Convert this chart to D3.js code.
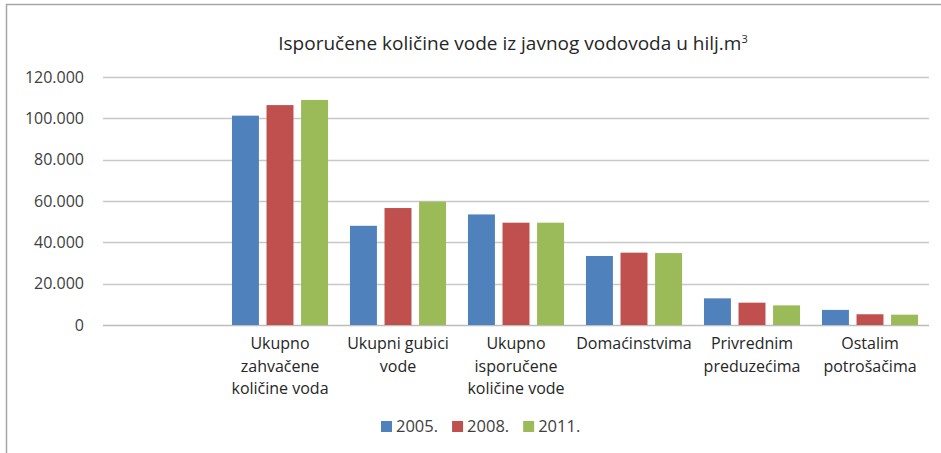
<!DOCTYPE html>
<html>
<head>
<meta charset="utf-8">
<script src="https://cdn.jsdelivr.net/npm/d3@7"></script>
<style>
  body { margin: 0; background: #fff; }
  svg { display: block; font-family: "Open Sans", sans-serif; }
</style>
</head>
<body>
<div id="chart"></div>
<script>
// Categories (line breaks as in the original chart)
const categories = [
  "Ukupno\nzahvačene\nkoličine voda",
  "Ukupni gubici\nvode",
  "Ukupno\nisporučene\nkoličine vode",
  "Domaćinstvima",
  "Privrednim\npreduzećima",
  "Ostalim\npotrošačima"
];
const years = ["2005.", "2008.", "2011."];
const values2005 = [101300, 48000, 53500, 33400, 12900, 7300];
const values2008 = [106400, 56600, 49500, 35000, 10800, 5200];
const values2011 = [108900, 59700, 49500, 34800, 9500, 5000];
const yTicks = [0, 20000, 40000, 60000, 80000, 100000, 120000];
const colors = ["#4f81bd", "#c0504d", "#9bbb59"];

const series = [values2005, values2008, values2011];
const W = 941, H = 453;
const margin = {top: 77, right: 12, bottom: 128, left: 103};

const svg = d3.select("#chart").append("svg")
  .attr("width", W)
  .attr("height", H);

// outer frame (runs off the right and bottom edges)
svg.append("rect")
  .attr("x", 6.5).attr("y", 4.5)
  .attr("width", W + 20).attr("height", H + 20)
  .attr("fill", "none")
  .attr("stroke", "#a6a6a6")
  .attr("stroke-width", 1.5);

const fmt = d3.formatLocale({decimal: ",", thousands: ".", grouping: [3], currency: ["", ""]}).format(",");

// leading empty slot, as in the original
const x0 = d3.scaleBand()
  .domain(["", ...categories])
  .range([margin.left, 929])
  .paddingInner(0.186)
  .paddingOuter(0.093);

const x1 = d3.scaleBand()
  .domain(years)
  .range([0, x0.bandwidth()])
  .paddingInner(0.22);

const y = d3.scaleLinear()
  .domain([0, 120000])
  .range([325, 77]);

// grid
svg.append("g")
  .selectAll("line")
  .data(yTicks)
  .join("line")
  .attr("x1", margin.left)
  .attr("x2", 929)
  .attr("y1", d => Math.round(y(d)) + 0.5)
  .attr("y2", d => Math.round(y(d)) + 0.5)
  .attr("stroke", d => d === 0 ? "#bdbdbd" : "#c8c8c8")
  .attr("stroke-width", 1.5);

// y axis labels
const yAxis = svg.append("g")
  .attr("transform", `translate(${margin.left - 19},0)`)
  .call(d3.axisLeft(y).tickValues(yTicks).tickFormat(fmt).tickSize(0).tickPadding(0));
yAxis.select(".domain").remove();
yAxis.selectAll("text")
  .style("font-family", "'Open Sans', sans-serif")
  .style("font-size", "16px")
  .style("fill", "#404040");

// bars
const groups = svg.append("g")
  .selectAll("g")
  .data(categories)
  .join("g")
  .attr("transform", d => `translate(${x0(d)},0)`);

groups.selectAll("rect")
  .data((d, i) => years.map((yr, j) => ({yr, v: series[j][i], c: colors[j]})))
  .join("rect")
  .attr("x", d => x1(d.yr))
  .attr("width", x1.bandwidth())
  .attr("y", d => y(d.v))
  .attr("height", d => y(0) - y(d.v))
  .attr("fill", d => d.c);

// category labels
const labels = svg.append("g")
  .selectAll("text")
  .data(categories)
  .join("text")
  .attr("x", d => x0(d) + x0.bandwidth() / 2)
  .attr("y", 349)
  .attr("text-anchor", "middle")
  .style("font-size", "16px")
  .style("fill", "#262626");
labels.selectAll("tspan")
  .data(d => d.split("\n"))
  .join("tspan")
  .attr("x", function() { return this.parentNode.getAttribute("x"); })
  .attr("dy", (d, i) => i === 0 ? 0 : 22.5)
  .text(d => d);

// title
const title = svg.append("text")
  .attr("x", 513)
  .attr("y", 50)
  .attr("text-anchor", "middle")
  .style("font-size", "19px")
  .style("fill", "#262626")
  .text("Isporučene količine vode iz javnog vodovoda u hilj.m");
title.append("tspan")
  .attr("dy", -7)
  .style("font-size", "11px")
  .text("3");

// legend
const legend = svg.append("g").attr("transform", "translate(381,432)");
let lx = 0;
years.forEach((yr, j) => {
  legend.append("rect")
    .attr("x", lx).attr("y", -11)
    .attr("width", 11).attr("height", 11)
    .attr("fill", colors[j]);
  const t = legend.append("text")
    .attr("x", lx + 15)
    .attr("y", 0)
    .style("font-size", "16.5px")
    .style("fill", "#404040")
    .text(yr);
  lx += 15 + t.node().getComputedTextLength() + 14;
});
</script>
</body>
</html>
